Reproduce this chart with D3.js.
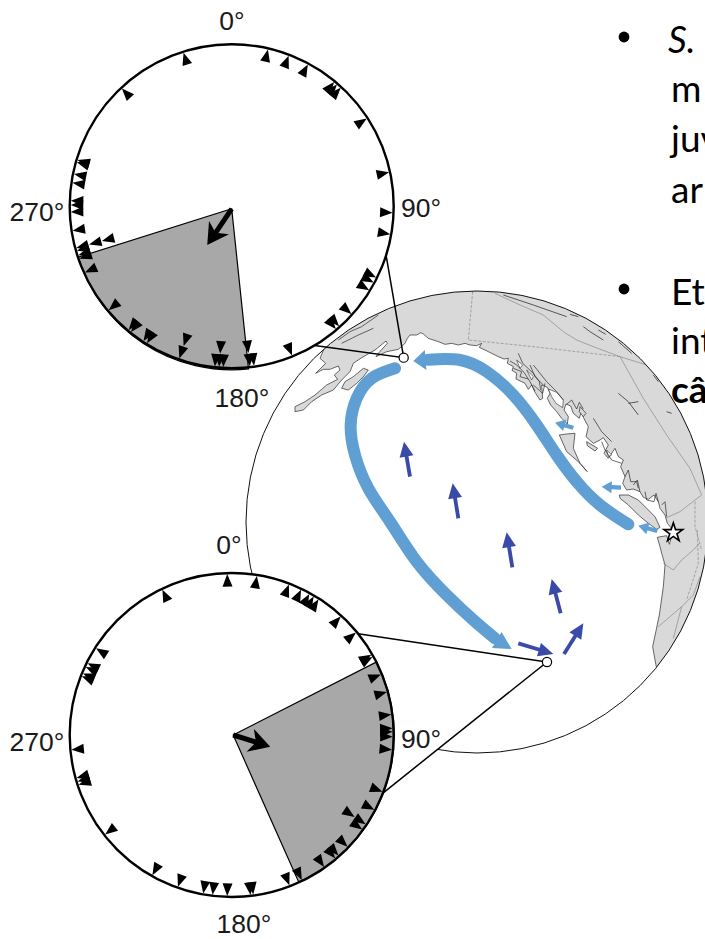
<!DOCTYPE html>
<html><head><meta charset="utf-8">
<script src="https://cdn.jsdelivr.net/npm/d3@7"></script>
<style>html,body{margin:0;padding:0;background:#fff;overflow:hidden}svg{display:block}</style>
</head><body><svg id="c" width="705" height="939"></svg>
<script>
// Circular data: headings (degrees), equal values stack inward
const topHeadings=[342.6,317,13,20.7,28.2,39.5,40.8,42.6,57,77.8,92.3,100,116.2,118.2,121.4,132,138.2,139.7,158,172,173.5,173.5,183,184.5,184.5,186,199,199,211.7,213.2,218.7,219.8,229.8,245.7,251,252.3,254,255,255,255,261.3,268,270.5,272,278.4,281.6,285.9,286.7];
const bottomHeadings=[358.4,9,20.8,25.5,28.8,30.6,32.6,42.6,50.5,60.1,61,67.9,74.5,82.7,87.6,88.8,90.6,95.3,110.6,117.7,123.7,123.7,125.9,134,138.5,140,145,154.2,159,172.3,173.3,181.6,186.8,190.2,199.5,209.5,231.8,252,253.2,254.5,264.7,291.4,292.5,295,296.5,302.6,334.5];
const topWedge=[174,252.5], bottomWedge=[63,156];
const topMean=[214,0.27], bottomMean=[107.6,0.24];
const roseLabels=["0°","90°","180°","270°"];

// Map traces, digitised on a 1215×840 grid covering the map crop
const mainCoast=[[73,189],[60,220],[77,235],[47,265],[70,253],[90,253],[115,243],[120,255],[103,270],[113,283],[80,300],[45,330],[15,350],[-15,365],[-15,380],[10,375],[35,350],[65,330],[100,315],[125,285],[150,260],[160,235],[185,218],[225,195],[258,168],[262,175],[235,205],[228,215],[260,200],[295,193],[315,175],[322,160],[330,150],[350,150],[362,143],[370,147],[385,160],[400,165],[415,170],[435,178],[455,175],[475,180],[495,175],[510,180],[530,182],[545,175],[538,187],[565,200],[595,215],[612,222],[625,220],[622,235],[640,245],[636,256],[650,265],[648,282],[665,290],[675,295],[685,313],[695,300],[705,322],[720,345],[728,340],[725,300],[742,307],[750,325],[742,340],[752,360],[770,380],[785,400],[802,417],[805,395],[792,375],[798,357],[812,363],[820,385],[838,400],[845,375],[850,397],[865,425],[858,455],[880,475],[900,465],[910,458],[925,480],[912,505],[925,520],[945,490],[955,515],[970,525],[962,545],[975,575],[968,595],[980,615],[1000,612],[1020,620],[1030,637],[1045,643],[1062,630],[1075,650],[1080,670],[1095,690],[1102,715],[1112,727],[1118,745],[1108,778],[1100,752],[1072,757],[1080,785],[1085,805],[1095,840],[1090,905],[1078,990],[1058,1085],[1065,1125],[1070,1150],[1400,1150],[1400,-100],[73,-100]];
const islands=[
 [[125,310],[135,290],[160,275],[190,250],[205,255],[190,275],[170,295],[145,315]],
 [[778,450],[800,447],[825,445],[820,490],[840,535],[862,560],[835,530],[800,500]],
 [[985,630],[1015,645],[1040,670],[1065,695],[1080,727],[1070,733],[1045,715],[1015,690],[985,660],[960,640],[958,630]],
 [[860,470],[893,490],[885,498],[862,482]],
 [[840,365],[858,385],[850,395],[838,380]]];
const channels=[
 [[745,312],[770,322],[790,345],[788,368],[768,355],[755,335]],
 [[680,255],[700,275],[695,285]],
 [[650,225],[668,240],[660,250]],
 [[920,495],[935,510],[925,515]]];
const fjords=[
 [[630,228],[650,240],[672,262],[690,290],[705,318]],
 [[655,205],[668,235],[700,265],[718,290],[722,315]],
 [[690,240],[705,275],[730,300]],
 [[640,250],[665,260],[660,275],[685,282]],
 [[700,300],[728,325],[735,295]],
 [[700,240],[740,290],[770,320],[790,345]],
 [[800,358],[815,345],[830,372],[838,352],[850,372]],
 [[880,400],[905,440],[935,470]],
 [[905,470],[915,495],[935,525],[965,535]],
 [[975,575],[985,555],[992,590],[1010,590],[1015,610]],
 [[1035,620],[1040,645],[1062,650],[1068,625],[1075,650]],
 [[1000,600],[1012,585],[1020,620]],
 [[1085,660],[1095,650],[1100,695]],
 [[115,165],[150,140],[185,125],[235,90]],
 [[125,175],[175,150],[220,130]]];
const lakes=[
 [[850,125],[870,140],[910,165]],[[895,135],[917,148]],
 [[955,325],[985,350],[1015,390]],[[985,355],[1015,350]],[[1100,380],[1115,385]],
 [[610,30],[700,60],[800,95]],[[810,88],[835,95]],[[955,170],[995,205]],[[1060,270],[1075,290]]];
const borders=[
 [[585,25],[660,60],[730,90],[790,140],[830,165],[880,185],[960,215],[1040,240]],
 [[960,215],[1030,340],[1100,450],[1170,550],[1205,630]],
 [[1095,700],[1140,680],[1185,645],[1205,630]],
 [[1090,835],[1120,855],[1145,825],[1180,795],[1198,775]],
 [[1075,1025],[1145,965],[1180,930],[1200,875]],
 [[1145,965],[1120,1060]]];
const dashedBorders=[
 [[518,20],[505,165],[700,185],[960,215]],
 [[1185,650],[1185,725],[1205,795]],
 [[1192,735],[1195,835],[1160,945]]];
const northwardCurrent=[[985,718],[900,660],[830,590],[770,510],[710,420],[640,330],[560,260],[480,225],[385,224]];
const southwardCurrent=[[285,250],[215,280],[170,340],[152,420],[165,510],[205,610],[270,710],[350,830],[440,930],[520,1005],[585,1060]];
const currentHeads=[[377,225,340,228,37,60],[590,1065,635,1092,52,56]];
const coastalArrows=[[820,428,765,413],[963,608,905,605],[1072,738,1015,722]];
const offshoreArrows=[[330,575,312,470],[475,700,458,595],[637,847,620,742],[782,985,755,882],[655,1075,760,1107],[792,1107,850,1015]];
const sites=[[311,218],[741,1131]];
const release=[1120,743];
const sideLines=[["S.",53,"italic","normal"],["m",102,"normal","normal"],["juv",152,"normal","normal"],["ar",203,"normal","normal"],["Et",305,"normal","normal"],["int",354,"normal","normal"],["câ",403,"normal","bold"]];
const bullets=[37,289];

const svg=d3.select("#c");
const X=d3.scaleLinear().domain([0,1215]).range([300,705]);
const Y=d3.scaleLinear().domain([0,840]).range([285,565]);
const P=d=>[X(d[0]),Y(d[1])];
const ln=d3.line().x(d=>X(d[0])).y(d=>Y(d[1]));
const lnS=d3.line().x(d=>X(d[0])).y(d=>Y(d[1])).curve(d3.curveNatural);
const globe={cx:477,cy:522,r:231};
const defs=svg.append("defs");
defs.append("clipPath").attr("id","gc").append("circle").attr("cx",globe.cx).attr("cy",globe.cy).attr("r",globe.r);

// Globe
const g=svg.append("g").attr("clip-path","url(#gc)");
g.append("path").attr("d",ln(mainCoast)+"Z").attr("fill","#d9d9d9").attr("stroke","#2b2b2b").attr("stroke-width",.7).attr("stroke-linejoin","round");
g.selectAll(".isl").data(islands).join("path").attr("d",d=>ln(d)+"Z").attr("fill","#d9d9d9").attr("stroke","#2b2b2b").attr("stroke-width",.7);
g.selectAll(".chn").data(channels).join("path").attr("d",d=>ln(d)+"Z").attr("fill","#fff").attr("stroke","#2b2b2b").attr("stroke-width",.6);
g.selectAll(".brd").data(borders).join("path").attr("d",ln).attr("fill","none").attr("stroke","#8a8a8a").attr("stroke-width",.7);
g.selectAll(".dbrd").data(dashedBorders).join("path").attr("d",ln).attr("fill","none").attr("stroke","#8a8a8a").attr("stroke-width",.7).attr("stroke-dasharray","3 1.5");
g.selectAll(".fj").data(fjords).join("path").attr("d",ln).attr("fill","none").attr("stroke","#2b2b2b").attr("stroke-width",.7);
g.selectAll(".lk").data(lakes).join("path").attr("d",ln).attr("fill","none").attr("stroke","#333").attr("stroke-width",.8);
svg.append("circle").attr("cx",globe.cx).attr("cy",globe.cy).attr("r",globe.r).attr("fill","none").attr("stroke","#111").attr("stroke-width",1);

// Rose helpers
const ang=d3.scaleLinear().domain([0,360]).range([0,2*Math.PI]);
function polar(c,deg,rad){const a=ang(deg);return [c.x+rad*Math.sin(a),c.y-rad*Math.cos(a)];}
const topC={x:231.7,y:206.3,r:162}, botC={x:231.7,y:735,r:162};

// Connectors
const connTop=[polar(topC,107.6,162),P(sites[0]),polar(topC,149.2,162)];
const connBot=[polar(botC,51.3,162),P(sites[1]),polar(botC,111,162)];
svg.append("path").attr("d",d3.line()(connBot)).attr("fill","#fff").attr("stroke","none");
[connTop,connBot].forEach(c=>svg.append("path").attr("d",d3.line()(c)).attr("fill","none").attr("stroke","#000").attr("stroke-width",1.5));

function rose(c,heads,wedge,mean,off){
  const G=svg.append("g");
  G.append("circle").attr("cx",c.x).attr("cy",c.y).attr("r",c.r).attr("fill","#fff");
  const arc=d3.arc().innerRadius(0).outerRadius(c.r-1).startAngle(ang(wedge[0])).endAngle(ang(wedge[1]));
  G.append("path").attr("d",arc()).attr("transform",`translate(${c.x+off[0]},${c.y+off[1]})`).attr("fill","#a8a8a8").attr("stroke","#000").attr("stroke-width",1.2);
  G.append("circle").attr("cx",c.x).attr("cy",c.y).attr("r",c.r).attr("fill","none").attr("stroke","#000").attr("stroke-width",2.4);
  const seen=new Map();
  const lev=d3.scaleLinear().domain([0,3]).range([c.r-1,c.r-41]);
  const pts=heads.map(h=>{const n=seen.get(h)||0;seen.set(h,n+1);return {h,n};});
  G.selectAll(".t").data(pts).join("path").attr("d","M0,0L5,12.5L-5,12.5Z")
    .attr("transform",d=>{const p=polar(c,d.h,lev(d.n));return `translate(${p[0]},${p[1]}) rotate(${d.h})`;}).attr("fill","#000");
  const s={x:c.x+off[0],y:c.y+off[1]};
  const tip=polar(s,mean[0],mean[1]*c.r);
  const neck=polar(s,mean[0],mean[1]*c.r-13);
  G.append("path").attr("d",d3.line()([[s.x,s.y],neck])).attr("stroke","#000").attr("stroke-width",5);
  G.append("path").attr("d","M0,0L-12,21L0,15L12,21Z").attr("transform",`translate(${tip[0]},${tip[1]}) rotate(${mean[0]})`).attr("fill","#000");
}
rose(topC,topHeadings,topWedge,topMean,[0,2.5]);
rose(botC,bottomHeadings,bottomWedge,bottomMean,[1.5,0]);

// Rose labels
const lbl=(t,x,y)=>svg.append("text").attr("x",x).attr("y",y).attr("text-anchor","middle").attr("font-family","Liberation Sans, Arial, sans-serif").attr("font-size",26.5).attr("fill","#1a1a1a").text(t);
[[232,30],[421,217],[242,407],[37,221]].forEach((p,i)=>lbl(roseLabels[i],p[0],p[1]));
[[229,554],[421,748],[244,933],[37,751]].forEach((p,i)=>lbl(roseLabels[i],p[0],p[1]));

// Currents
const BL="#5f9fd3", DB="#3a4aa8";
function head(x1,y1,x2,y2,len,w,col){
  const a=Math.atan2(Y(y2)-Y(y1),X(x2)-X(x1))*180/Math.PI;
  svg.append("path").attr("d",`M0,0L${-len},${w/2}L${-len},${-w/2}Z`).attr("transform",`translate(${X(x2)},${Y(y2)}) rotate(${a})`).attr("fill",col);
}
svg.selectAll(".cur").data([northwardCurrent,southwardCurrent]).join("path").attr("d",lnS).attr("fill","none").attr("stroke",BL).attr("stroke-width",12).attr("stroke-linecap","round");
currentHeads.forEach(h=>head(h[0],h[1],h[2],h[3],h[4]/3,h[5]/3,BL));
function arrow(a,col,sw,len,w){
  svg.append("path").attr("d",ln([[a[0],a[1]],[a[0]+(a[2]-a[0])*.7,a[1]+(a[3]-a[1])*.7]])).attr("stroke",col).attr("stroke-width",sw).attr("fill","none");
  head(a[0],a[1],a[2],a[3],len,w,col);
}
coastalArrows.forEach(a=>arrow(a,BL,4.2,10,12));
offshoreArrows.forEach(a=>arrow(a,DB,3.8,15,14));

// Sites and release point
svg.selectAll(".site").data(sites).join("circle").attr("cx",d=>X(d[0])).attr("cy",d=>Y(d[1])).attr("r",4.6).attr("fill","#fff").attr("stroke","#000").attr("stroke-width",1.2);
svg.append("path").attr("d",d3.symbol(d3.symbolStar,110)()).attr("transform",`translate(${X(release[0])},${Y(release[1])})`).attr("fill","#fff").attr("stroke","#000").attr("stroke-width",1.6);

// Side text cut off by the frame
svg.selectAll(".bul").data(bullets).join("circle").attr("cx",624).attr("cy",d=>d).attr("r",5.4).attr("fill","#000");
svg.selectAll(".side").data(sideLines).join("text").attr("x",d=>d[0]==="S."?668:671).attr("y",d=>d[1]).attr("font-family","Lato, sans-serif").attr("font-size",37).attr("font-style",d=>d[2]).attr("font-weight",d=>d[3]).attr("fill","#000").text(d=>d[0]);
</script></body></html>
